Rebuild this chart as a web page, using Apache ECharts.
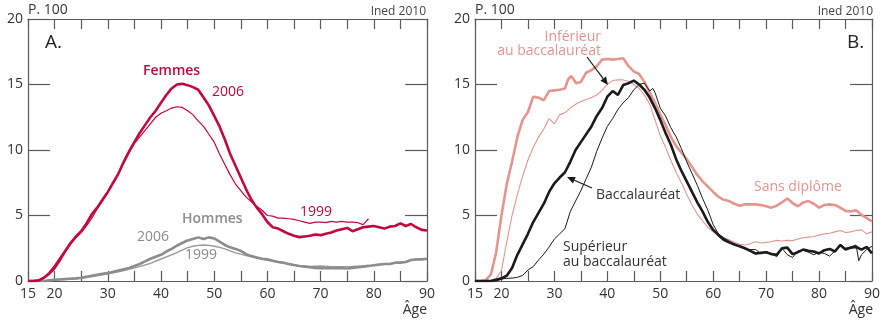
<!DOCTYPE html>
<html><head><meta charset="utf-8">
<script src="https://cdn.jsdelivr.net/npm/echarts@6/dist/echarts.min.js"></script>
<style>html,body{margin:0;padding:0;background:#fff}#c{width:883px;height:321px}</style>
</head><body><div id="c"></div>
<script>
// ---- Panel A : Femmes / Hommes, 1999 & 2006 ----
const femmes2006Ages = [15,16,17,18,19,20,21,22,23,24,25,26,27,28,29,30,31,32,33,34,35,36,37,38,39,40,41,42,43,44,45,46,47,48,49,50,51,52,53,54,55,56,57,58,59,60,61,62,63,64,65,66,67,68,69,70,71,72,73,74,75,76,77,78,79,80,81,82,83,84,85,86,87,88,89,90];
const femmes2006 = [0,0,0.05,0.25,0.6,1.1,1.7,2.3,2.9,3.4,3.8,4.4,5.1,5.6,6.2,6.8,7.5,8.2,9.1,9.9,10.6,11.3,11.9,12.5,13.0,13.6,14.2,14.7,15.0,15.05,14.95,14.8,14.6,14.0,13.4,12.6,11.8,10.8,9.7,8.8,7.9,7.0,6.2,5.6,5.1,4.5,4.1,4.0,3.8,3.6,3.45,3.35,3.4,3.45,3.55,3.5,3.6,3.7,3.85,3.95,4.05,3.8,3.95,4.1,4.15,4.2,4.1,4.0,4.15,4.2,4.4,4.2,4.35,4.1,3.9,3.85];
const femmes1999Ages = [15,16,17,18,19,20,21,22,23,24,25,26,27,28,29,30,31,32,33,34,35,36,37,38,39,40,41,42,43,44,45,46,47,48,49,50,51,52,53,54,55,56,57,58,59,60,61,62,63,64,65,66,67,68,69,70,71,72,73,74,75,76,77,78,79];
const femmes1999 = [0,0,0.05,0.2,0.5,0.9,1.5,2.2,2.8,3.3,3.7,4.2,4.8,5.5,6.1,6.8,7.5,8.2,9.0,9.8,10.5,11.0,11.5,12.0,12.5,12.8,13.0,13.2,13.3,13.25,13.0,12.7,12.2,11.8,11.2,10.6,9.7,8.9,8.1,7.4,6.9,6.4,6.05,5.7,5.4,5.0,4.95,4.8,4.8,4.75,4.7,4.6,4.5,4.4,4.5,4.5,4.45,4.55,4.5,4.55,4.5,4.5,4.45,4.3,4.75];
const hommes2006Ages = [15,18,19,20,22,24,25,27,29,30,32,34,35,36,37,38,39,40,41,42,43,44,45,46,47,48,49,50,51,52,53,54,55,56,57,58,59,60,61,62,63,64,65,66,67,68,69,70,72,74,75,76,77,78,79,80,81,82,83,84,85,86,87,88,89,90];
const hommes2006 = [0,0,0.05,0.1,0.15,0.2,0.25,0.4,0.55,0.6,0.8,1.0,1.15,1.3,1.5,1.7,1.85,2.0,2.25,2.45,2.7,2.9,3.1,3.2,3.33,3.2,3.33,3.25,3.0,2.75,2.57,2.45,2.3,2.05,1.9,1.8,1.7,1.65,1.55,1.45,1.4,1.3,1.22,1.15,1.1,1.05,1.0,0.97,0.97,0.97,0.95,1.0,1.05,1.1,1.15,1.2,1.25,1.3,1.3,1.4,1.4,1.45,1.6,1.65,1.65,1.7];
const hommes1999Ages = [15,18,20,22,25,28,30,32,34,35,36,38,40,42,44,45,46,47,48,49,50,51,52,53,54,55,56,57,58,59,60,62,64,66,68,70,72,74,76,78,79];
const hommes1999 = [0,0,0.08,0.12,0.2,0.4,0.55,0.7,0.9,1.0,1.1,1.35,1.68,2.0,2.35,2.55,2.65,2.72,2.75,2.72,2.65,2.57,2.45,2.3,2.15,2.05,1.95,1.85,1.75,1.65,1.6,1.45,1.3,1.15,1.12,1.15,1.1,1.1,1.12,1.15,1.2];

// ---- Panel B : par diplôme ----
const sansDiplomeAges = [15,16,17,18,19,20,21,22,23,24,25,26,27,28,29,30,31,32,32.6,33.2,34.1,35,36,37,38,39,40,41,42,43,44,45,46,47,48,49,50,51,52,53,54,55,56,57,58,59,60,61,62,63,64,65,66,67,68,69,70,71,72,73,74,75,76,77,78,79,80,81,82,83,84,85,86,87,88,89,90];
const sansDiplome = [0,0,0.05,0.5,2.2,5.0,7.4,9.1,11.0,12.3,12.9,14.07,14.0,13.8,14.5,14.55,14.6,14.7,15.4,15.65,15.1,15.2,15.9,16.1,16.4,16.9,16.95,16.9,16.95,17.0,16.4,16.0,15.8,15.2,14.4,13.6,12.7,11.9,11.0,10.3,9.8,9.3,8.7,8.1,7.6,7.2,6.8,6.43,6.2,6.1,5.9,5.75,5.85,5.85,5.85,5.8,5.7,5.6,5.75,6.0,6.3,5.95,5.7,6.0,6.1,5.9,5.6,5.8,5.85,5.8,5.6,5.35,5.3,5.4,5.05,4.8,4.55];
const inferieurBacAges = [15,17,18,19,20,21,22,23,24,25,26,27,28,29,30,31,32,33,34,35,36,37,38,39,40,41,42,43,44,45,46,47,48,49,50,51,52,53,54,55,56,57,58,59,60,61,62,63,64,65,66,67,68,69,70,71,72,73,74,75,76,77,78,79,80,81,82,83,84,85,86,87,88,89,90];
const inferieurBac = [0,0,0.05,0.2,0.8,3.0,5.0,6.6,8.0,9.24,10.2,11.0,11.6,12.4,12.0,12.7,12.85,13.2,13.5,13.7,13.85,14.0,14.2,14.55,15.0,15.3,15.35,15.35,15.25,15.0,14.7,14.2,13.5,12.3,11.1,10.2,9.2,8.3,7.5,6.6,5.8,5.1,4.6,4.1,3.75,3.5,3.3,3.15,2.95,2.8,2.75,2.85,3.0,2.9,2.95,3.0,3.1,3.05,3.1,3.08,3.2,3.3,3.35,3.4,3.5,3.6,3.65,3.75,3.85,3.7,3.75,3.85,3.9,3.6,3.75];
const bacAges = [15,18,19,20,21,22,23,24,25,26,27,28,29,30,31,32,33,34,35,36,37,38,39,40,41,42,43,44,45,46,47,48,49,50,51,52,53,54,55,56,57,58,59,60,61,62,63,64,65,66,67,68,69,70,71,72,73,74,75,76,77,78,79,80,81,82,83,84,85,86,87,88,89,90];
const bac = [0,0,0.1,0.2,0.4,1.0,2.0,2.8,3.6,4.5,5.2,5.9,6.8,7.46,7.9,8.3,9.1,10.0,10.6,11.2,11.8,12.6,13.2,14.07,14.5,14.2,14.96,15.1,15.3,15.0,14.6,14.0,13.2,12.3,11.3,10.4,9.3,8.4,7.6,6.8,6.0,5.3,4.5,3.9,3.5,3.15,2.95,2.78,2.65,2.5,2.3,2.1,2.15,2.2,2.05,2.0,2.5,2.55,2.05,2.2,2.4,2.3,2.25,2.1,2.35,2.45,2.25,2.75,2.4,2.55,2.6,2.4,2.6,2.1];
const superieurBacAges = [15,19,20,21,22,23,24,25,26,27,28,29,30,31,32,33,34,35,36,37,38,39,40,41,42,43,44,45,46,47,48,48.6,49,50,51,52,53,54,55,56,57,58,59,60,61,62,63,64,65,66,67,68,69,70,71,72,73,74,75,76,77,78,79,80,81,82,83,84,85,86,87,87.5,88,89,90];
const superieurBac = [0,0,0.15,0.2,0.22,0.28,0.43,0.84,1.1,1.6,2.05,2.6,3.2,3.6,4.0,5.3,6.1,6.9,7.8,8.7,9.9,10.9,11.8,12.4,13.1,13.6,14.0,14.6,15.0,15.1,14.5,14.7,14.4,13.2,12.6,11.7,11.0,10.1,9.1,8.2,7.3,6.3,5.4,4.3,3.6,3.3,3.05,2.85,2.6,2.45,2.4,2.4,2.1,2.25,2.1,1.85,2.5,2.0,1.8,2.3,2.35,2.2,2.0,2.2,2.1,1.9,2.3,2.8,2.5,2.6,2.75,1.55,2.0,2.4,2.65];

const xLabels = [15,20,30,40,50,60,70,80,90];

const zip = (a, v) => a.map((x, i) => [x, v[i]]);
const FONT = "'Open Sans', 'Noto Sans', sans-serif";
const RED = '#c0083f', GRAY = '#8c8c8c', PINK = '#e4958f', BLACK = '#1a1a1a';
const FRAME = '#5a5a5a', TXT = '#333';

const chart = echarts.init(document.getElementById('c'), null, {renderer: 'canvas'});

const grids = [
  {left: 28, top: 19, width: 399, height: 262},
  {left: 475, top: 19, width: 399, height: 262}
];
function xAx(gi, pos) {
  return {
    type: 'value', gridIndex: gi, min: 15, max: 90, interval: 5, position: pos,
    axisLine: {show: true, onZero: false, lineStyle: {color: FRAME, width: 1.2}},
    axisTick: {show: true, inside: true, length: 10, lineStyle: {color: FRAME, width: 1.2}},
    splitLine: {show: false},
    axisLabel: {show: pos === 'bottom', margin: 6, color: TXT, fontFamily: FONT, fontSize: 14,
      formatter: v => xLabels.includes(v) ? String(v) : ''}
  };
}
function yAx(gi, pos) {
  return {
    type: 'value', gridIndex: gi, min: 0, max: 20, interval: 5, position: pos,
    axisLine: {show: true, onZero: false, lineStyle: {color: FRAME, width: 1.2}},
    axisTick: {show: true, inside: true, length: 22, lineStyle: {color: FRAME, width: 1.2}},
    splitLine: {show: false},
    axisLabel: {show: pos === 'left', margin: 5, color: TXT, fontFamily: FONT, fontSize: 14}
  };
}
function line(xi, data, color, width) {
  return {type: 'line', xAxisIndex: xi, yAxisIndex: xi, data: data, showSymbol: false, symbol: 'none',
    smooth: false, lineStyle: {color: color, width: width}, silent: true, animation: false};
}
function txt(x, y, s, color, opts) {
  opts = opts || {};
  return {type: 'text', x: x, y: y, silent: true, z: 10,
    style: {text: s, fill: color, font: (opts.weight || 'normal') + ' ' + (opts.size || 14) + 'px ' + FONT,
      textAlign: opts.align || 'left', textVerticalAlign: 'middle'}};
}
function arrow(x1, y1, x2, y2, color) {
  const ang = Math.atan2(y2 - y1, x2 - x1), L = 8, W = 3.5;
  const bx = x2 - L * Math.cos(ang), by = y2 - L * Math.sin(ang);
  const px = -Math.sin(ang) * W, py = Math.cos(ang) * W;
  return [
    {type: 'line', silent: true, z: 10, shape: {x1: x1, y1: y1, x2: bx, y2: by}, style: {stroke: color, lineWidth: 1.2}},
    {type: 'polygon', silent: true, z: 10, shape: {points: [[x2, y2], [bx + px, by + py], [bx - px, by - py]]}, style: {fill: color}}
  ];
}

chart.setOption({
  animation: false,
  grid: grids,
  xAxis: [xAx(0, 'bottom'), xAx(1, 'bottom'), xAx(0, 'top'), xAx(1, 'top')],
  yAxis: [yAx(0, 'left'), yAx(1, 'left'), yAx(0, 'right'), yAx(1, 'right')],
  series: [
    line(0, zip(hommes1999Ages, hommes1999), '#999', 1.4),
    line(0, zip(hommes2006Ages, hommes2006), GRAY, 2.6),
    line(0, zip(femmes1999Ages, femmes1999), RED, 1.2),
    line(0, zip(femmes2006Ages, femmes2006), RED, 2.6),
    line(1, zip(sansDiplomeAges, sansDiplome), PINK, 2.6),
    line(1, zip(inferieurBacAges, inferieurBac), PINK, 1.1),
    line(1, zip(superieurBacAges, superieurBac), BLACK, 1.0),
    line(1, zip(bacAges, bac), BLACK, 2.6)
  ],
  graphic: [
    txt(28, 10, 'P. 100', TXT),
    txt(426, 12, 'Ined 2010', '#444', {size: 12, align: 'right'}),
    txt(45, 43, 'A.', '#222', {size: 19}),
    txt(427, 310, 'Âge', TXT, {align: 'right'}),
    txt(143, 71, 'Femmes', RED, {weight: 600}),
    txt(212, 92, '2006', RED),
    txt(300, 212, '1999', RED),
    txt(182, 219, 'Hommes', GRAY, {weight: 600}),
    txt(137, 237, '2006', GRAY),
    txt(185, 255, '1999', GRAY),

    txt(475, 10, 'P. 100', TXT),
    txt(873, 12, 'Ined 2010', '#444', {size: 12, align: 'right'}),
    txt(847, 43, 'B.', '#222', {size: 19}),
    txt(873, 310, 'Âge', TXT, {align: 'right'}),
    txt(601, 37, 'Inférieur', PINK, {align: 'right'}),
    txt(601, 51, 'au baccalauréat', PINK, {align: 'right'}),
    txt(596, 195, 'Baccalauréat', TXT),
    txt(563, 247, 'Supérieur', TXT),
    txt(563, 262, 'au baccalauréat', TXT),
    txt(754, 187, 'Sans diplôme', PINK)
  ].concat(arrow(587, 57, 608, 85, BLACK)).concat(arrow(592, 188, 567, 177, BLACK))
});
</script></body></html>
